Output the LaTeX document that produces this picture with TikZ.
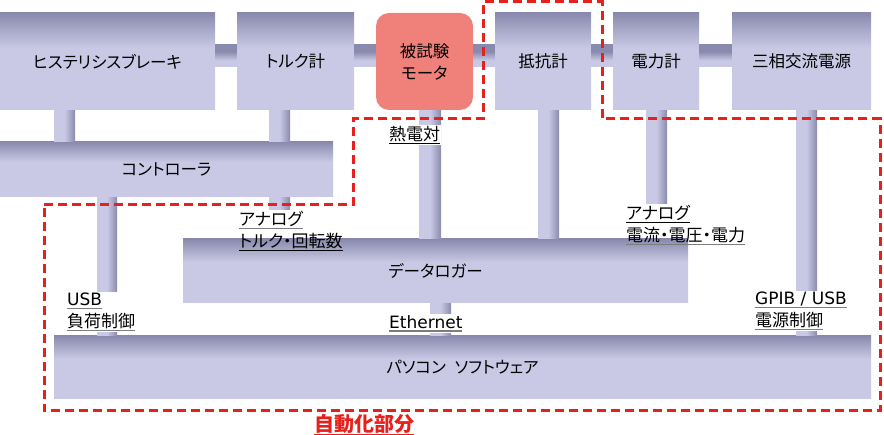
\documentclass[tikz,border=0pt]{standalone}
\usepackage{fontspec}
\setmainfont{Noto Sans CJK JP}[RawFeature=+palt]
\newfontfamily\latinfont{DejaVu Sans}
\usepackage{xcolor}
\usepackage{tikz}
\usetikzlibrary{calc}
\usetikzlibrary{positioning}
\definecolor{boxdark}{RGB}{138,138,174}
\definecolor{boxlight}{RGB}{201,201,229}
\definecolor{motorred}{RGB}{239,128,122}
\definecolor{autored}{RGB}{232,32,28}
\definecolor{ulgray}{RGB}{125,125,125}
\pgfdeclareverticalshading{boxshade}{100bp}{color(0bp)=(boxlight); color(57bp)=(boxlight); color(75bp)=(boxdark); color(100bp)=(boxdark)}
\pgfdeclareverticalshading{barshade}{100bp}{color(0bp)=(boxlight); color(40bp)=(boxlight); color(60bp)=(boxdark); color(100bp)=(boxdark)}
\pgfdeclarehorizontalshading{stubshade}{100bp}{color(0bp)=(boxlight); color(50bp)=(boxlight); color(75bp)=(boxdark); color(100bp)=(boxdark)}
\newcommand{\lblline}[2][ulgray]{\setbox0\hbox{#2}\rlap{\copy0}\textcolor{#1}{\rule[-3.5pt]{\wd0}{1.2pt}}}

\begin{document}
\begin{tikzpicture}[x=1pt,y=-1pt,
  blk/.style={shade,shading=boxshade,minimum height=97,inner sep=0,align=center,font=\fontsize{16.5}{22}\selectfont},
  wide/.style={shade,shading=boxshade,inner sep=0,font=\fontsize{16.5}{22}\selectfont},
  motorbox/.style={fill=motorred,rounded corners=13,minimum width=97,minimum height=97,inner sep=0,align=center,font=\fontsize{16.5}{22}\selectfont},
  bar/.style={shading=barshade},
  stub/.style={shading=stubshade},
  lbl/.style={align=left,inner sep=1pt,anchor=north west,font=\fontsize{17}{22}\selectfont},
  autoline/.style={draw=autored,line width=3pt,dash pattern=on 9pt off 5pt}]
\useasboundingbox (0,0) rectangle (884,435);
\node[blk,minimum width=215] (brake) at (107.5,61.5) {ヒステリシスブレーキ};
\node[blk,minimum width=117] (torque) at (295.5,61.5) {トルク計};
\node[motorbox] (motor) at (424.5,61.5) {被試験\\モータ};
\node[blk,minimum width=96] (ohm) at (543,61.5) {抵抗計};
\node[blk,minimum width=86] (watt) at (656,61.5) {電力計};
\node[blk,minimum width=139] (source) at (801.5,61.5) {三相交流電源};
\node[wide,minimum width=333,minimum height=55] (ctrl) at (166.5,169.5) {コントローラ};
\node[wide,minimum width=505,minimum height=64] (logger) at (435.5,271) {データロガー};
\node[wide,minimum width=817,minimum height=63] (pc) at (462.5,367.5) {パソコン\hspace{9pt}ソフトウェア};
\shade[bar] (brake.east |- 0,45) rectangle (torque.west |- 0,67);
\shade[bar] (torque.east |- 0,45) rectangle (motor.west |- 0,67);
\shade[bar] (motor.east |- 0,45) rectangle (ohm.west |- 0,67);
\shade[bar] (ohm.east |- 0,45) rectangle (watt.west |- 0,67);
\shade[bar] (watt.east |- 0,45) rectangle (source.west |- 0,67);
\node[lbl] (tqlbl) at (238,210) {\lblline{アナログ}\\\lblline[black]{トルク・回転数}};
\node[lbl] (pwlbl) at (625,204) {\lblline[black]{アナログ}\\\lblline{電流・電圧・電力}};
\shade[stub] (54,0 |- brake.south) rectangle (75,0 |- ctrl.north);
\shade[stub] (269,0 |- torque.south) rectangle (290,0 |- ctrl.north);
\shade[stub] (269,0 |- ctrl.south) rectangle (290,0 |- tqlbl.north);
\shade[stub] (419,0 |- motor.south) rectangle (441,0 |- logger.north);
\shade[stub] (538,0 |- ohm.south) rectangle (559,0 |- logger.north);
\shade[stub] (646,0 |- watt.south) rectangle (667,0 |- pwlbl.north);
\shade[stub] (97,0 |- ctrl.south) rectangle (117,0 |- pc.north);
\shade[stub] (430,0 |- logger.south) rectangle (451,0 |- pc.north);
\shade[stub] (796,0 |- source.south) rectangle (817,0 |- pc.north);
\node[lbl,fill=white] (thermo) at (388,125) {\lblline[black]{熱電対}};
\node[lbl,fill=white] (usblbl) at (66,292) {\lblline{\latinfont USB}\\\lblline{負荷制御}};
\node[lbl,fill=white] (ethlbl) at (388,314) {\lblline{\latinfont Ethernet}};
\node[lbl,fill=white] (gpiblbl) at (754,291) {\lblline{\latinfont GPIB / USB}\\\lblline{電源制御}};
\draw[autoline] (44,205) -- (353,205) -- (353,119) -- (483,119) -- (483,2) -- (602,2) -- (602,119) -- (880,119) -- (880,411) -- (44,411) -- cycle;
\node[lbl,text=autored,font=\fontsize{20}{24}\selectfont\bfseries] (autolbl) at (313,413) {\lblline[autored]{自動化部分}};
\end{tikzpicture}
\end{document}
